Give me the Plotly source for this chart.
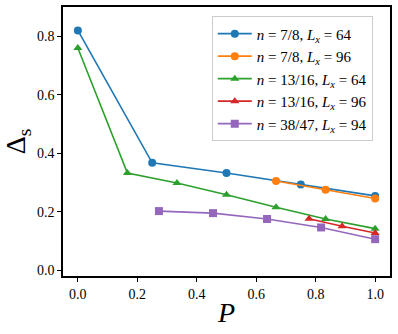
import plotly.graph_objects as go

# data
p_78_64 = [0.0, 0.25, 0.5, 0.75, 1.0]
d_78_64 = [0.820, 0.367, 0.332, 0.293, 0.254]

p_78_96 = [2 / 3, 5 / 6, 1.0]
d_78_96 = [0.305, 0.275, 0.245]

p_1316_64 = [0.0, 1 / 6, 1 / 3, 0.5, 2 / 3, 5 / 6, 1.0]
d_1316_64 = [0.760, 0.332, 0.298, 0.258, 0.215, 0.175, 0.142]

p_1316_96 = [7 / 9, 8 / 9, 1.0]
d_1316_96 = [0.176, 0.150, 0.127]

p_3847_94 = [3 / 11, 5 / 11, 7 / 11, 9 / 11, 1.0]
d_3847_94 = [0.202, 0.195, 0.175, 0.146, 0.106]

series = [
    (p_78_64, d_78_64, "<i>n</i> = 7/8, <i>L<sub>x</sub></i> = 64", "#1f77b4", "circle"),
    (p_78_96, d_78_96, "<i>n</i> = 7/8, <i>L<sub>x</sub></i> = 96", "#ff7f0e", "circle"),
    (p_1316_64, d_1316_64, "<i>n</i> = 13/16, <i>L<sub>x</sub></i> = 64", "#2ca02c", "triangle-up"),
    (p_1316_96, d_1316_96, "<i>n</i> = 13/16, <i>L<sub>x</sub></i> = 96", "#d62728", "triangle-up"),
    (p_3847_94, d_3847_94, "<i>n</i> = 38/47, <i>L<sub>x</sub></i> = 94", "#9467bd", "square"),
]

font = "Liberation Serif, DejaVu Serif, serif"

fig = go.Figure()
for x, y, name, color, sym in series:
    fig.add_trace(go.Scatter(
        x=x, y=y, name=name, mode="lines+markers",
        line=dict(color=color, width=1.6),
        marker=dict(color=color, symbol=sym, size=8),
    ))

axis = dict(
    showline=True, linecolor="black", linewidth=1.5, mirror=True,
    ticks="outside", ticklen=4, tickwidth=1, tickcolor="black",
    showgrid=False, zeroline=False, automargin=False,
    tickfont=dict(family=font, size=14, color="black"),
)

fig.update_layout(
    width=398, height=334,
    margin=dict(l=63, r=8, t=7, b=58),
    plot_bgcolor="white", paper_bgcolor="white",
    xaxis=dict(axis, range=[-0.05, 1.05], tickvals=[0, 0.2, 0.4, 0.6, 0.8, 1.0],
               ticktext=["0.0", "0.2", "0.4", "0.6", "0.8", "1.0"],
               title=dict(text="<i>P</i>", font=dict(family=font, size=28, color="black"), standoff=2)),
    yaxis=dict(axis, range=[-0.02, 0.9], tickvals=[0, 0.2, 0.4, 0.6, 0.8],
               ticktext=["0.0", "0.2", "0.4", "0.6", "0.8"],
               title=dict(text="Δ<sub>s</sub>", font=dict(family=font, size=28, color="black"), standoff=6)),
    legend=dict(
        x=0.455, y=0.965, xanchor="left", yanchor="top",
        bgcolor="rgba(255,255,255,0.8)", bordercolor="#cccccc", borderwidth=1,
        font=dict(family=font, size=15, color="black"),
        itemwidth=34, tracegroupgap=0,
    ),
)

# drop the default body margin so the figure sits at the page corner
fig.write_html("out.html", config={"displayModeBar": False},
               post_script="document.body.style.margin='0';")
